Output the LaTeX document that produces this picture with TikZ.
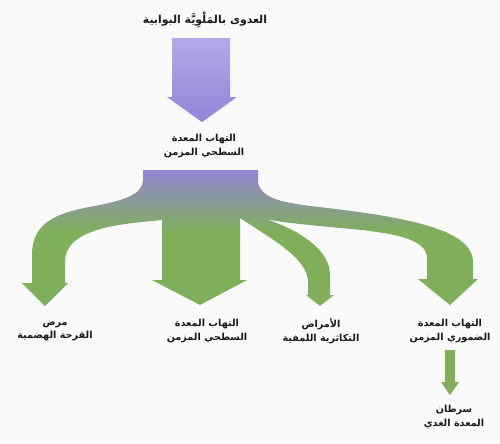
\documentclass[tikz,border=0pt]{standalone}
\usepackage{fontspec}
\newfontfamily\arabicfont[Script=Arabic]{DejaVu Sans}
\TeXXeTstate=1
\newcommand{\ar}[1]{\beginR #1\endR}
\definecolor{pur}{HTML}{9383D8}
\definecolor{purlight}{HTML}{B3A9E8}
\definecolor{grn}{HTML}{80AF5C}
\begin{document}
\begin{tikzpicture}[x=0.02cm,y=-0.02cm,
  lbl/.style={font=\arabicfont\bfseries\fontsize{5.5}{7.6}\selectfont, align=center, text=black!90, inner sep=0pt},
  toplbl/.style={lbl, font=\arabicfont\bfseries\fontsize{6.2}{7.4}\selectfont}]
\useasboundingbox (0,0) rectangle (500,443);
\fill[black!2] (0,0) rectangle (500,443);

% texts
\node[toplbl] (src) at (205,20) {\ar{العدوى بالمَلْوِيَّة البوابية}};
\node[lbl] (mid) at (204,146) {\ar{التهاب المعدة}\\\ar{السطحي المزمن}};
\node[lbl] (b1) at (55,331) {\ar{مرض}\\\ar{القرحة الهضمية}};
\node[lbl] (b2) at (207,331) {\ar{التهاب المعدة}\\\ar{السطحي المزمن}};
\node[lbl] (b3) at (321,331) {\ar{الأمراض}\\\ar{التكاثرية اللمفية}};
\node[lbl] (b4) at (450,331) {\ar{التهاب المعدة}\\\ar{الضموري المزمن}};
\node[lbl] (b5) at (454,417) {\ar{سرطان}\\\ar{المعدة الغدي}};

% top purple arrow
\shade[top color=purlight, bottom color=pur]
  (172,38) -- (230,38) -- (230,97) -- (237,97) -- (202,122) -- (167,97) -- (172,97) -- cycle;

% branching arrow
\begin{scope}
\clip (143,170) -- (258,170) -- (258,183)
  .. controls (262,198) and (280,202) .. (310,206)
  .. controls (400,216) and (473,228) .. (473,262)
  -- (473,279) -- (478,279) -- (450,305) -- (418,279) -- (427,279)
  -- (427,258) .. controls (427,238) and (390,232) .. (340,228)
  .. controls (300,224) and (275,222) .. (263,218)
  .. controls (305,232) and (330,252) .. (330,275)
  -- (330,295) -- (334,295) -- (320,306) -- (306,295) -- (308,295)
  -- (308,282) .. controls (308,258) and (270,238) .. (240,218)
  -- (240,280) -- (247,280) -- (200,305) -- (152,280) -- (162,280)
  -- (162,220) .. controls (120,224) and (65,228) .. (65,262)
  -- (65,283) -- (68,283) -- (45,306) -- (22,283) -- (32,283)
  -- (32,255) .. controls (32,220) and (60,212) .. (100,205)
  .. controls (130,199) and (143,192) .. (143,180) -- cycle;
\shade[top color=pur, bottom color=grn] (10,168) rectangle (490,232);
\fill[grn] (10,231) rectangle (490,310);
\end{scope}

% small arrow
\fill[grn] (445,350) -- (455,350) -- (455,382) -- (459,382) -- (450,395) -- (441,382) -- (445,382) -- cycle;
\end{tikzpicture}
\end{document}
